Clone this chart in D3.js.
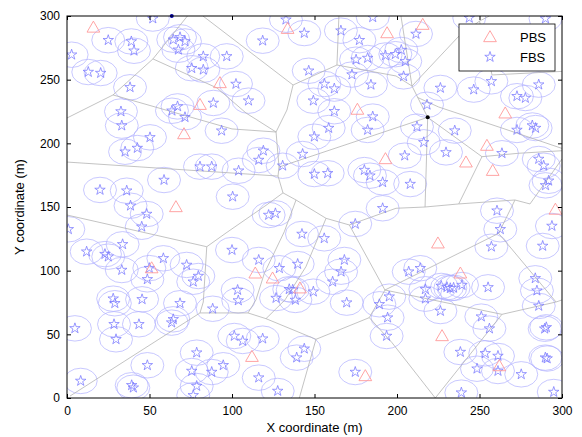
<!DOCTYPE html>
<html><head><meta charset="utf-8">
<script src="https://cdn.jsdelivr.net/npm/d3@7"></script>
<style>body{margin:0;background:#fff}svg{display:block}text{font-family:"Liberation Sans",Arial,sans-serif}</style>
</head><body><svg id="c" width="582" height="437"></svg>
<script>
const xTicks=[0,50,100,150,200,250,300];
const yTicks=[0,50,100,150,200,250,300];
const coverageRadius=10;
const pbs=[[16,291],[133.7,290],[194,286.6],[215.6,293.2],[92.7,247.4],[80.6,230.3],[176,226.5],[70.9,207.3],[193,187.7],[265.6,223.6],[254.5,198.2],[241.8,185.1],[258,178.5],[296,148],[66,150],[51.3,102],[114.1,97.9],[124.6,94],[141.2,86.2],[224.8,121.5],[238.4,97.9],[112.1,32.4],[180.8,17.3],[227.3,48.7],[262,25.1]];
const fbs=[[52,298],[25,281],[39,280],[40.6,272.7],[2.8,269.6],[12.9,256],[20.4,255.2],[64.4,281.4],[68.5,283.3],[71.5,280],[67.5,273.5],[82.6,268.3],[75.6,259],[82.6,257.8],[96.8,268.3],[38.2,244],[88.7,231.7],
[132.7,297.1],[143.8,286.6],[118.6,280.6],[166,288.5],[185.3,299],[177.2,281],[175.2,265.7],[182.2,267],[193,269],[146.5,257],[172.7,254],[184.2,246],[156,246.6],[162,243],[102.4,246.6],[110,233.5],[149.3,233.5],
[211.5,285.9],[243.8,298.5],[290,298],[202.6,273.3],[205,264.4],[199,270],[204,252.6],[226.3,243.5],[246.5,242.2],[257.2,248.7],[285.9,246.1],[272.7,237],[277.8,235.6],[218.2,230.3],
[32.7,225],[33.2,213.9],[50.3,204.7],[35.2,193.4],[42.6,196.3],[20,163.4],[36.2,162.8],[58.8,171.2],[80.6,181.7],[87.7,181.7],[93.7,209.9],[63.6,225.6],[67,229],[71.5,220.5],
[162,225.2],[185.3,221],[182.2,210.5],[158.6,212],[149.9,205.2],[142.8,191.6],[119,194.2],[116.2,186.9],[104,178.5],[130.7,182.4],[149.9,175.9],[158,176.5],[180.2,179],[183.6,174.6],[191.3,169.4],[100.4,158.1],
[212.1,213.1],[216.2,200.8],[235,210],[272.7,210.5],[282,214],[284,212],[204.7,190.3],[229.7,192.9],[263.6,192.2],[285.9,187.7],[288.9,182.4],[291.9,170.6],[290,167],[208,168],
[38.5,151],[48.3,144.5],[45.3,134.5],[0.8,132.5],[33.7,120.7],[11.9,114.9],[23,113],[25,111],[33.2,100.5],[58.4,109.7],[49.9,102],[48.7,93.2],[72.5,104.5],[79.6,95.8],[76.5,91.3],[28,78],[45.5,77.5],
[122.2,143.7],[126.3,145],[142.4,128.8],[155.9,125.4],[174.7,136.7],[191.3,149],[100,116.2],[116.2,108.4],[128.7,101.9],[139.8,105.2],[168.1,108.4],[166.1,99.2],[161,91.3],[134.7,85.4],[136.8,85],[149.3,83.5],[126.7,78.5],[103.4,84.8],[103.8,76.6],[195.3,79.6],
[260.6,147.1],[262.6,132.5],[257.2,118.8],[293.9,135.1],[288.3,119.4],[207.1,99.2],[214.1,101.9],[239.4,88.7],[232.3,86.2],[234.3,86.5],[230.3,87],[217.2,85.4],[255.2,86.9],[283.8,94],[284.8,84.3],[217.2,78],[226.8,88],
[29,74.4],[68.5,74.4],[88.3,70.1],[4.8,54.7],[28.5,57.9],[43.6,57.9],[64.4,61.8],[63.4,59.2],[29.7,46.1],[78.6,35.6],[48.7,25.7],[75.6,21.2],[87.7,20.4],[94.7,25.7],[78.6,9.4],[76.5,2.1],[8.3,13.4],[39.2,10],[40.2,8.1],
[138.4,77],[169.5,74.9],[189.3,73.6],[194.3,63.1],[193.7,48.7],[101.4,48.7],[106.5,44.8],[118.6,46.6],[143.8,38.7],[139.2,31.7],[116.2,16],[127.7,5.5],[174.7,20.4],
[226.3,68.3],[251.1,63.9],[256,54.5],[285.9,72.3],[289.5,54.4],[290.5,55.5],[289.9,31.7],[291,31],[238.4,36.1],[253.5,35.1],[261.2,33],[261.2,21.2],[248.5,23],[275.3,18.6],[239,4.2],[295,4.7]];
const markedPoints=[[63.5,300,"#0000aa"],[218.6,220.4,"#000"]];
const voronoiEdges=[
[[73,300],[52.1,266.3]],[[52.1,266.3],[27.9,238]],[[27.9,238],[0,219.9]],
[[27.9,238],[100,211.3],[126.7,208.9]],[[52.1,266.3],[90.9,243.5],[108.5,223.8],[126.7,208.9]],
[[82.4,300],[137,245.8]],[[137,245.8],[133.3,226.2],[126.7,208.9]],[[137,245.8],[163.6,261.5]],
[[163.6,261.5],[164.8,300]],[[163.6,261.5],[199.4,252.9],[209.1,245]],[[209.1,245],[202.4,300]],
[[209.1,245],[237,283.5],[250,296]],[[250,296],[256,300]],[[250,296],[257.6,253.7],[300,256.5]],
[[209.1,245],[218.6,220.4]],[[218.6,220.4],[128.5,181.4]],
[[212.5,236],[225.3,228.5],[263.6,212],[300,196]],
[[126.7,208.9],[128.5,181.4],[127.9,174.3]],[[0,185.3],[127.9,174.3]],[[127.9,174.3],[130.9,161.1]],
[[218.6,220.4],[217,150]],[[218.6,220.4],[251.5,189.5]],[[251.5,189.5],[273.8,192.2],[300,194.2]],
[[251.5,189.5],[237.4,152.4]],[[237.4,152.4],[271.5,155.5]],[[217,150],[237.4,152.4]],
[[0,143.7],[84.7,118.8]],[[84.7,118.8],[82.6,75.4],[80.6,66.8]],[[84.7,118.8],[96.4,129.6],[121.8,152.4],[130.9,161.1]],
[[80.6,66.8],[1.8,1.5]],[[80.6,66.8],[109.7,66.8],[120.6,62.3],[150.9,46.1]],
[[109.7,66.8],[114.5,77],[119.6,97.9],[131.7,130.6]],[[120.6,62.3],[132.1,77],[144.8,103.1],[157,141.1]],
[[130.9,161.1],[138.8,155.5]],[[138.8,155.5],[157,141.1]],[[138.8,155.5],[131.7,130.6]],
[[157,141.1],[171.1,135.9]],[[171.1,135.9],[199.4,149],[217,150]],[[171.1,135.9],[192.7,84.8]],
[[192.7,84.8],[261.6,129.3]],[[192.7,84.8],[183.2,63.1]],[[192.7,84.8],[263.6,65.7]],
[[150.9,46.1],[140.8,0]],[[150.9,46.1],[183.2,63.1]],[[183.2,63.1],[197,43.4],[223.2,0]],
[[263.6,65.7],[223.2,0]],[[263.6,65.7],[296.4,75.4],[300,77]],[[261.6,129.3],[296.4,75.4]],
[[261.6,129.3],[271.5,155.5]],[[271.5,155.5],[280.6,152.4],[300,187.7]]
];

const x=d3.scaleLinear().domain([0,300]).range([67,562]);
const y=d3.scaleLinear().domain([0,300]).range([398,16]);
const svg=d3.select("#c");
svg.append("defs").append("clipPath").attr("id","clip").append("rect")
 .attr("x",x(0)).attr("y",y(300)).attr("width",x(300)-x(0)).attr("height",y(0)-y(300));
const g=svg.append("g").attr("clip-path","url(#clip)");

g.selectAll("ellipse.cov").data(fbs).join("ellipse").attr("class","cov")
 .attr("cx",d=>x(d[0])).attr("cy",d=>y(d[1]))
 .attr("rx",x(coverageRadius)-x(0)).attr("ry",y(0)-y(coverageRadius))
 .attr("fill","none").attr("stroke","#b0b0ff").attr("stroke-width",0.7);

const line=d3.line().x(d=>x(d[0])).y(d=>y(d[1]));
g.selectAll("path.edge").data(voronoiEdges).join("path").attr("class","edge")
 .attr("d",line).attr("fill","none").attr("stroke","#b4b4b4").attr("stroke-width",0.8);

const star=d3.symbol().type(d3.symbolStar).size(34);
g.selectAll("path.fbs").data(fbs).join("path").attr("class","fbs")
 .attr("transform",d=>`translate(${x(d[0])},${y(d[1])})`).attr("d",star)
 .attr("fill","none").attr("stroke","#7878ff").attr("stroke-width",0.75);

const tri=d3.symbol().type(d3.symbolTriangle).size(70);
g.selectAll("path.pbs").data(pbs).join("path").attr("class","pbs")
 .attr("transform",d=>`translate(${x(d[0])},${y(d[1])+1})`).attr("d",tri)
 .attr("fill","none").attr("stroke","#ff9a9a").attr("stroke-width",0.9);

svg.selectAll("circle.mark").data(markedPoints).join("circle").attr("class","mark")
 .attr("cx",d=>x(d[0])).attr("cy",d=>y(d[1])).attr("r",2).attr("fill",d=>d[2]);

const ax=svg.append("g");
ax.append("rect").attr("x",x(0)).attr("y",y(300)).attr("width",x(300)-x(0)).attr("height",y(0)-y(300))
 .attr("fill","none").attr("stroke","#000").attr("stroke-width",1);
const xb=d3.axisBottom(x).tickValues(xTicks).tickSizeInner(-4).tickSizeOuter(0).tickPadding(8);
const xt=d3.axisTop(x).tickValues(xTicks).tickSizeInner(-4).tickSizeOuter(0).tickFormat("");
const yl=d3.axisLeft(y).tickValues(yTicks).tickSizeInner(-4).tickSizeOuter(0).tickPadding(7);
const yr=d3.axisRight(y).tickValues(yTicks).tickSizeInner(-4).tickSizeOuter(0).tickFormat("");
function style(sel){sel.select(".domain").remove();sel.selectAll("line").attr("stroke","#000");
 sel.selectAll("text").attr("font-size",12).attr("fill","#000").attr("font-family","Liberation Sans, Arial, sans-serif");}
ax.append("g").attr("transform",`translate(0,${y(0)})`).call(xb).call(style);
ax.append("g").attr("transform",`translate(0,${y(300)})`).call(xt).call(style);
ax.append("g").attr("transform",`translate(${x(0)},0)`).call(yl).call(style);
ax.append("g").attr("transform",`translate(${x(300)},0)`).call(yr).call(style);

svg.append("text").attr("x",(x(0)+x(300))/2).attr("y",432).attr("text-anchor","middle")
 .attr("font-size",13).text("X coordinate (m)");
svg.append("text").attr("transform",`translate(24,${(y(0)+y(300))/2}) rotate(-90)`).attr("text-anchor","middle")
 .attr("font-size",13).text("Y coordinate (m)");

const lg=svg.append("g");
lg.append("rect").attr("x",459).attr("y",24).attr("width",96).attr("height",47).attr("fill","#fff").attr("stroke","#000").attr("stroke-width",0.8);
lg.append("path").attr("transform","translate(490,38)").attr("d",tri).attr("fill","none").attr("stroke","#ff9a9a").attr("stroke-width",0.9);
lg.append("path").attr("transform","translate(490,57)").attr("d",star).attr("fill","none").attr("stroke","#7878ff").attr("stroke-width",0.75);
lg.append("text").attr("x",520).attr("y",42).attr("font-size",13).text("PBS");
lg.append("text").attr("x",520).attr("y",62).attr("font-size",13).text("FBS");
</script></body></html>
